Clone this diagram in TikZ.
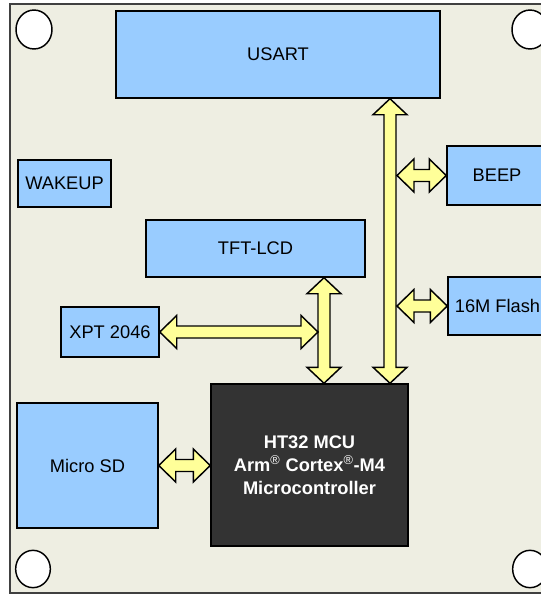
\documentclass[tikz,border=0pt]{standalone}
\usepackage{fontspec}
\setmainfont{Liberation Sans}
\usetikzlibrary{calc}
\definecolor{boardcol}{HTML}{EEEEE2}
\definecolor{boxblue}{HTML}{99CCFF}
\definecolor{arrowyellow}{HTML}{FFFF99}
\definecolor{mcucol}{HTML}{333333}
\newcommand\hdarrow[2]{%
  \draw[busarrow] let \p1=#1, \p2=#2 in
    (\x1,\y1) -- (\x1+12.75pt,\y1+12.375pt) -- (\x1+12.75pt,\y1+4.5pt)
    -- (\x2-12.75pt,\y1+4.5pt) -- (\x2-12.75pt,\y1+12.375pt) -- (\x2,\y1)
    -- (\x2-12.75pt,\y1-12.375pt) -- (\x2-12.75pt,\y1-4.5pt)
    -- (\x1+12.75pt,\y1-4.5pt) -- (\x1+12.75pt,\y1-12.375pt) -- cycle;}
\newcommand\vdarrow[2]{%
  \draw[busarrow] let \p1=#1, \p2=#2 in
    (\x1,\y1) -- (\x1+12.75pt,\y1-12pt) -- (\x1+4.5pt,\y1-12pt)
    -- (\x1+4.5pt,\y2+12pt) -- (\x1+12.75pt,\y2+12pt) -- (\x1,\y2)
    -- (\x1-12.75pt,\y2+12pt) -- (\x1-4.5pt,\y2+12pt)
    -- (\x1-4.5pt,\y1-12pt) -- (\x1-12.75pt,\y1-12pt) -- cycle;}
\begin{document}
\begin{tikzpicture}[x=0.75pt,y=-0.75pt,
  blk/.style={draw=black, line width=1.1pt, fill=boxblue, inner sep=0pt,
    font=\fontsize{13.7}{16}\selectfont},
  mcubox/.style={draw=black, line width=1.1pt, fill=mcucol, inner sep=0pt,
    text=white, align=center, font=\fontsize{13.7}{17.25}\selectfont\bfseries},
  busarrow/.style={draw=black, line width=1.1pt, fill=arrowyellow, line join=miter},
  hole/.style={draw=black, line width=1.1pt, fill=white}]
\useasboundingbox (0,0) rectangle (541,594);
\clip (0,0) rectangle (541,594);
\fill[white] (0,0) rectangle (541,594);
\draw[draw=black!75, line width=1.1pt, fill=boardcol] (10,4) rectangle (565,593);
\draw[hole] (34,29.5) ellipse [x radius=13.5pt, y radius=14.6pt];
\draw[hole] (530,29.5) ellipse [x radius=13.5pt, y radius=14.6pt];
\draw[hole] (33,569) ellipse [x radius=13pt, y radius=14pt];
\draw[hole] (530,569) ellipse [x radius=13pt, y radius=14pt];

\node[blk, minimum width=243pt, minimum height=65.25pt] (usart) at (278,54.5) {USART};
\node[blk, minimum width=69.75pt, minimum height=35.25pt] (wakeup) at (64.5,183.5) {WAKEUP};
\node[blk, minimum width=164.25pt, minimum height=42.75pt] (tft) at (255.5,248.5) {TFT-LCD};
\node[blk, minimum width=73.5pt, minimum height=37.5pt] (xpt) at (110,332) {XPT 2046};
\node[blk, minimum width=75pt, minimum height=44.25pt] (beep) at (497,175.5) {BEEP};
\node[blk, minimum width=74.25pt, minimum height=43.5pt] (flash) at (497.5,306) {16M Flash};
\node[blk, minimum width=105.75pt, minimum height=93.75pt] (sd) at (87.5,465.5) {Micro SD};
\node[mcubox, minimum width=147.75pt, minimum height=121.5pt] (mcu) at (309.5,465)
  {HT32 MCU\\Arm\textsuperscript{\mdseries®} Cortex\textsuperscript{\mdseries®}-M4\\Microcontroller};

\coordinate (bus) at (390,0);
\coordinate (busright) at (397,0);
\coordinate (tftbus) at (324,0);
\coordinate (xptend) at (318,332);

\vdarrow{(usart.south -| bus)}{(mcu.north -| bus)}
\vdarrow{(tft.south -| tftbus)}{(mcu.north -| tftbus)}
\hdarrow{(xpt.east)}{(xptend)}
\hdarrow{(beep.west -| busright)}{(beep.west)}
\hdarrow{(flash.west -| busright)}{(flash.west)}
\hdarrow{(sd.east)}{(mcu.west)}
\end{tikzpicture}
\end{document}
